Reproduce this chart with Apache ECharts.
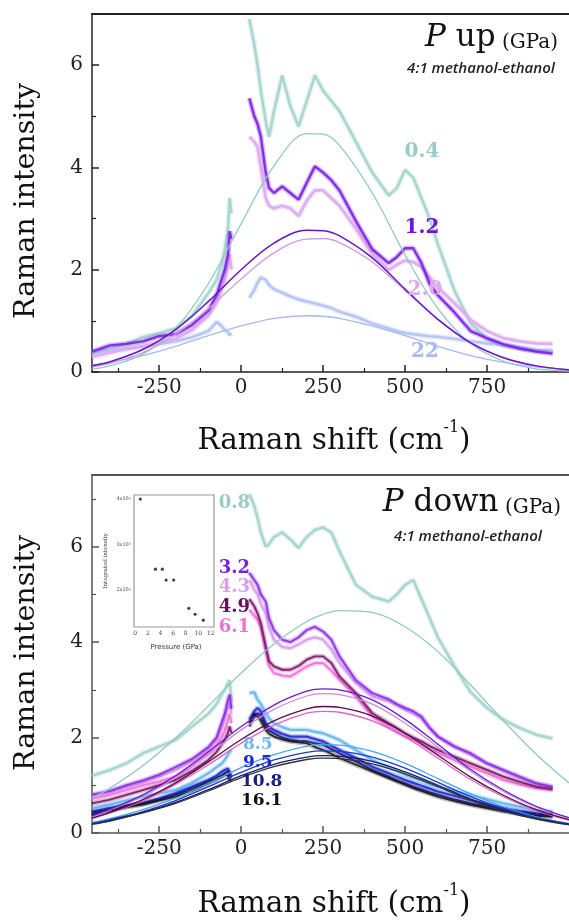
<!DOCTYPE html>
<html><head><meta charset="utf-8">
<script src="https://cdn.jsdelivr.net/npm/echarts@6/dist/echarts.min.js"></script>
<style>html,body{margin:0;padding:0;background:#fff}#c{width:569px;height:921px}</style>
</head><body><div id="c"></div>
<script>
// ---------- DATA ----------
const xLeft  = [-455,-400,-350,-300,-250,-200,-150,-100,-75,-60,-50,-40,-35,-30];
const xRight = [25,40,50,60,75,85,100,125,150,175,200,225,250,275,300,350,400,450,475,500,525,550,575,600,650,700,750,800,850,900,950];
const fitX   = [-455,-400,-300,-200,-100,0,100,200,250,300,400,500,600,700,800,900,1000];

// P up spectra
const up04L = [0.37,0.45,0.55,0.68,0.76,0.85,1.1,1.54,1.8,2.1,2.4,2.8,3.4,3.1];
const up04R = [6.9,6.4,6.0,5.5,4.9,4.6,5.1,5.8,5.2,4.8,5.3,5.8,5.5,5.3,5.1,4.5,3.9,3.45,3.6,3.95,3.8,3.4,3.0,2.5,1.6,0.95,0.65,0.52,0.46,0.42,0.4];
const up12L = [0.4,0.52,0.55,0.6,0.7,0.74,0.92,1.2,1.5,1.8,2.0,2.3,2.75,2.6];
const up12R = [5.35,5.0,4.85,4.6,3.9,3.6,3.5,3.63,3.5,3.37,3.7,4.02,3.9,3.75,3.55,2.95,2.4,2.13,2.25,2.42,2.42,2.13,1.72,1.5,1.17,0.8,0.66,0.54,0.46,0.4,0.36];
const up20L = [0.3,0.38,0.45,0.5,0.58,0.65,0.82,1.1,1.35,1.6,1.8,2.1,2.3,2.0];
const up20R = [4.6,4.5,4.4,4.0,3.4,3.25,3.2,3.25,3.2,3.05,3.35,3.55,3.55,3.4,3.25,2.8,2.3,2.0,2.1,2.18,2.15,2.05,1.85,1.65,1.35,1.02,0.8,0.66,0.6,0.56,0.55];
const up22L = [0.38,0.42,0.46,0.5,0.55,0.6,0.68,0.8,0.98,0.9,0.82,0.78,0.72,0.76];
const up22R = [1.45,1.6,1.75,1.85,1.8,1.7,1.62,1.55,1.48,1.42,1.38,1.34,1.3,1.25,1.18,1.08,0.95,0.85,0.8,0.76,0.74,0.72,0.7,0.69,0.65,0.6,0.56,0.53,0.48,0.43,0.42];
// P up fits
const fitUp04 = [0.06,0.12,0.35,0.85,1.73,2.9,4.03,4.66,4.65,4.43,3.5,2.29,1.24,0.56,0.21,0.06,0.02];
const fitUp12 = [0.12,0.2,0.44,0.83,1.38,2.0,2.52,2.77,2.76,2.66,2.23,1.62,1.03,0.57,0.28,0.12,0.04];
const fitUp20 = [0.1,0.17,0.38,0.74,1.24,1.82,2.33,2.6,2.61,2.53,2.15,1.59,1.03,0.58,0.28,0.12,0.04];
const fitUp22 = [0.14,0.19,0.32,0.5,0.71,0.9,1.05,1.1,1.09,1.05,0.9,0.71,0.5,0.32,0.19,0.1,0.05];

// P down spectra
const dn08L = [1.2,1.32,1.46,1.67,1.81,1.95,2.23,2.5,2.7,2.9,3.0,3.15,3.2,2.75];
const dn08R = [7.1,6.85,6.6,6.3,6.0,6.05,6.2,6.3,6.15,5.97,6.2,6.35,6.4,6.3,5.9,5.2,4.95,4.85,5.0,5.2,5.3,4.9,4.5,4.1,3.5,2.95,2.62,2.37,2.2,2.06,1.98];
const dn32L = [0.8,0.88,1.0,1.1,1.22,1.38,1.55,1.8,2.0,2.3,2.5,2.8,2.9,2.6];
const dn32R = [5.45,5.3,5.2,5.0,4.85,4.5,4.25,4.05,4.0,4.1,4.25,4.32,4.22,4.05,3.7,3.2,2.93,2.8,2.7,2.62,2.55,2.44,2.2,2.02,1.81,1.67,1.46,1.32,1.18,1.04,0.96];
const dn43L = [0.78,0.86,0.96,1.06,1.18,1.32,1.5,1.75,1.95,2.2,2.4,2.65,2.75,2.5];
const dn43R = [5.3,5.1,5.0,4.8,4.6,4.3,4.05,3.9,3.87,3.95,4.05,4.1,4.05,3.85,3.56,3.14,2.86,2.76,2.67,2.58,2.5,2.4,2.2,2.02,1.82,1.64,1.45,1.29,1.15,1.04,0.98];
const dn49L = [0.62,0.7,0.8,0.9,1.0,1.11,1.3,1.53,1.7,1.85,1.95,2.1,2.23,2.1];
const dn49R = [4.9,4.75,4.6,4.4,3.9,3.6,3.49,3.42,3.42,3.5,3.63,3.7,3.7,3.56,3.28,2.93,2.51,2.3,2.2,2.09,2.0,1.92,1.82,1.74,1.6,1.46,1.32,1.18,1.07,0.97,0.92];
const dn61L = [0.72,0.8,0.9,1.0,1.08,1.18,1.4,1.67,1.85,2.0,2.15,2.37,2.5,2.3];
const dn61R = [4.68,4.55,4.47,4.3,3.84,3.5,3.35,3.3,3.28,3.38,3.49,3.56,3.56,3.4,3.21,2.86,2.44,2.22,2.12,2.02,1.95,1.85,1.75,1.67,1.53,1.39,1.25,1.11,1.02,0.94,0.9];
const dn85L = [0.52,0.6,0.68,0.76,0.83,0.9,1.05,1.25,1.38,1.45,1.53,1.65,1.7,1.74];
const dn85R = [2.93,2.95,2.79,2.7,2.51,2.4,2.3,2.22,2.16,2.16,2.16,2.12,2.09,2.02,1.95,1.74,1.53,1.37,1.3,1.22,1.15,1.1,1.02,0.97,0.88,0.8,0.71,0.62,0.55,0.48,0.45];
const dn95L = [0.45,0.52,0.58,0.62,0.72,0.83,0.97,1.11,1.2,1.28,1.32,1.35,1.25,1.2];
const dn95R = [2.37,2.55,2.62,2.55,2.3,2.22,2.16,2.08,2.02,2.02,2.02,1.97,1.92,1.83,1.74,1.57,1.39,1.25,1.18,1.11,1.05,0.99,0.93,0.87,0.78,0.69,0.6,0.52,0.46,0.41,0.39];
const dn108L = [0.42,0.5,0.56,0.62,0.7,0.8,0.93,1.08,1.15,1.2,1.25,1.3,1.2,1.15];
const dn108R = [2.3,2.45,2.51,2.45,2.23,2.15,2.09,2.0,1.95,1.93,1.92,1.88,1.85,1.76,1.67,1.5,1.32,1.18,1.1,1.04,0.97,0.91,0.85,0.8,0.7,0.62,0.55,0.48,0.43,0.38,0.36];
const dn161L = [0.38,0.47,0.54,0.6,0.68,0.76,0.88,1.04,1.12,1.18,1.22,1.2,1.1,1.1];
const dn161R = [2.23,2.5,2.44,2.35,2.16,2.08,2.02,1.96,1.92,1.9,1.88,1.8,1.74,1.66,1.57,1.43,1.29,1.15,1.08,1.01,0.94,0.88,0.82,0.76,0.67,0.59,0.52,0.45,0.4,0.36,0.34];
// P down fits
const fitDn08  = [0.73,0.94,1.41,1.99,2.66,3.35,3.96,4.43,4.58,4.66,4.62,4.32,3.8,3.1,2.35,1.65,1.05];
const fitDn32  = [0.36,0.5,0.8,1.2,1.7,2.23,2.68,2.97,3.02,3.0,2.79,2.38,1.86,1.33,0.9,0.56,0.32];
const fitDn43  = [0.35,0.48,0.77,1.16,1.64,2.16,2.59,2.87,2.92,2.9,2.7,2.3,1.8,1.29,0.87,0.54,0.31];
const fitDn49  = [0.31,0.43,0.7,1.05,1.49,1.96,2.35,2.6,2.65,2.63,2.45,2.09,1.63,1.17,0.79,0.49,0.28];
const fitDn61  = [0.3,0.42,0.67,1.02,1.43,1.88,2.26,2.51,2.55,2.53,2.35,2.01,1.57,1.12,0.76,0.47,0.27];
const fitDn85  = [0.22,0.3,0.49,0.73,1.04,1.37,1.64,1.82,1.85,1.84,1.71,1.46,1.14,0.82,0.55,0.34,0.2];
const fitDn95  = [0.2,0.28,0.45,0.68,0.97,1.27,1.53,1.69,1.72,1.71,1.59,1.36,1.06,0.76,0.51,0.32,0.19];
const fitDn108 = [0.19,0.26,0.43,0.64,0.91,1.2,1.44,1.59,1.62,1.61,1.5,1.28,1.0,0.71,0.48,0.3,0.18];
const fitDn161 = [0.18,0.25,0.42,0.62,0.88,1.16,1.39,1.54,1.57,1.56,1.45,1.24,0.97,0.69,0.46,0.29,0.17];

// inset
const insetPressure  = [0.8,3.2,4.3,4.9,6.1,8.5,9.5,10.8];
const insetIntensity = [4.0,2.46,2.46,2.22,2.22,1.6,1.47,1.34];

// ticks
const xMajor = [-250,0,250,500,750];
const xMinor = [-375,-125,125,375,625,875];
const yMajor = [0,2,4,6];
const yMinorUp = [1,3,5];
const yMinorDn = [1,3,5,7];
const insetXTicks = [0,2,4,6,8,10,12];
const insetYTicks = [2,3,4];

// ---------- BUILD ----------
const SERIF = '"DejaVu Serif", serif';
function spec(L, R) {
  const d = xLeft.map((x, i) => [x, L[i]]);
  d.push([0, '-']);
  xRight.forEach((x, i) => d.push([x, R[i]]));
  return d;
}
function fit(Y) { return fitX.map((x, i) => [x, Y[i]]); }

const chart = echarts.init(document.getElementById('c'), null, {renderer: 'canvas'});
const axCol = '#222';
function xAxes(grid, col) {
  return [
    {gridIndex: grid, type: 'value', min: -455, max: 1000, position: 'bottom',
     axisLine: {show: true, onZero: false, lineStyle: {color: col, width: 1.5}},
     axisTick: {show: true, inside: true, length: 7, customValues: xMajor, lineStyle: {color: col, width: 1.5}},
     axisLabel: {show: true, customValues: xMajor, margin: 6, color: '#222', fontFamily: SERIF, fontSize: 20},
     splitLine: {show: false}},
    {gridIndex: grid, type: 'value', min: -455, max: 1000, position: 'bottom',
     axisLine: {show: false, onZero: false},
     axisTick: {show: true, inside: true, length: 4, customValues: xMinor, lineStyle: {color: col, width: 1.2}},
     axisLabel: {show: false}, splitLine: {show: false}},
    {gridIndex: grid, type: 'value', min: -455, max: 1000, position: 'top',
     axisLine: {show: true, onZero: false, lineStyle: {color: col, width: 2}},
     axisTick: {show: false}, axisLabel: {show: false}, splitLine: {show: false}}
  ];
}
function yAxes(grid, max, minor, col) {
  return [
    {gridIndex: grid, type: 'value', min: 0, max: max, position: 'left',
     axisLine: {show: true, onZero: false, lineStyle: {color: col, width: 1.5}},
     axisTick: {show: true, inside: true, length: 7, customValues: yMajor, lineStyle: {color: col, width: 1.5}},
     axisLabel: {show: true, customValues: yMajor, margin: 9, color: '#222', fontFamily: SERIF, fontSize: 20},
     splitLine: {show: false}},
    {gridIndex: grid, type: 'value', min: 0, max: max, position: 'left',
     axisLine: {show: false, onZero: false},
     axisTick: {show: true, inside: true, length: 4, customValues: minor, lineStyle: {color: col, width: 1.2}},
     axisLabel: {show: false}, splitLine: {show: false}}
  ];
}

const series = [];
function addSpec(xi, yi, L, R, color, w, z) {
  const data = spec(L, R);
  // soft halo suggesting the noisy band of the measured spectrum
  series.push({type: 'line', xAxisIndex: xi, yAxisIndex: yi, data: data, showSymbol: false,
    connectNulls: false, lineStyle: {color: color, width: w + 3, opacity: 0.28}, z: z, silent: true, animation: false});
  series.push({type: 'line', xAxisIndex: xi, yAxisIndex: yi, data: data, showSymbol: false,
    connectNulls: false, lineStyle: {color: color, width: w, opacity: 0.9}, z: z, silent: true, animation: false});
}
function addFit(xi, yi, Y, color, w) {
  series.push({type: 'line', xAxisIndex: xi, yAxisIndex: yi, data: fit(Y), showSymbol: false, smooth: 0.35,
    lineStyle: {color: color, width: w}, z: 5, silent: true, animation: false});
}
// top panel
addSpec(0, 0, up04L, up04R, '#a3d3cd', 2.6, 2);
addSpec(0, 0, up22L, up22R, '#b1c1f6', 2.6, 2);
addSpec(0, 0, up20L, up20R, '#dcaaf0', 2.8, 3);
addSpec(0, 0, up12L, up12R, '#7a1ee6', 2.4, 4);
addFit(0, 0, fitUp04, '#90c8c2', 1.3);
addFit(0, 0, fitUp22, '#a7b8f2', 1.3);
addFit(0, 0, fitUp20, '#d09be6', 1.3);
addFit(0, 0, fitUp12, '#6416c8', 1.5);
// bottom panel
addSpec(3, 2, dn08L, dn08R, '#a3d3cd', 2.6, 2);
addSpec(3, 2, dn43L, dn43R, '#d7a0ea', 2.4, 2);
addSpec(3, 2, dn32L, dn32R, '#8a2ee6', 2.1, 3);
addSpec(3, 2, dn61L, dn61R, '#f072da', 2.2, 3);
addSpec(3, 2, dn49L, dn49R, '#7a1266', 1.9, 3);
addSpec(3, 2, dn85L, dn85R, '#64b6f2', 2.4, 3);
addSpec(3, 2, dn95L, dn95R, '#1c2ad8', 2.2, 4);
addSpec(3, 2, dn108L, dn108R, '#1c1c86', 2.0, 4);
addSpec(3, 2, dn161L, dn161R, '#161616', 1.7, 4);
addFit(3, 2, fitDn08, '#90c8c2', 1.3);
addFit(3, 2, fitDn43, '#c98ae2', 1.3);
addFit(3, 2, fitDn32, '#6a1ad0', 1.3);
addFit(3, 2, fitDn61, '#e060c8', 1.3);
addFit(3, 2, fitDn49, '#5a0c46', 1.3);
addFit(3, 2, fitDn85, '#4aa6e8', 1.3);
addFit(3, 2, fitDn95, '#1a3ad0', 1.3);
addFit(3, 2, fitDn108, '#1a1a70', 1.3);
addFit(3, 2, fitDn161, '#333', 1.3);
// inset
series.push({type: 'scatter', xAxisIndex: 6, yAxisIndex: 4, symbolSize: 3.2,
  itemStyle: {color: '#111'}, data: insetPressure.map((p, i) => [p, insetIntensity[i]]), z: 10, silent: true, animation: false});

function label(text, x, y, color, size, align) {
  return {type: 'text', x: x, y: y, z: 50, silent: true,
    style: {text: text, fill: color, font: 'bold ' + size + 'px ' + SERIF, align: align || 'center', verticalAlign: 'middle'}};
}
function titleX(y) {
  return {type: 'text', x: 334, y: y, z: 50, silent: true,
    style: {text: '{a|Raman shift (cm}{s|-1}{a|)}', align: 'center', verticalAlign: 'middle',
      rich: {a: {fontFamily: SERIF, fontSize: 29.5, fill: '#111', lineHeight: 36, verticalAlign: 'bottom'},
             s: {fontFamily: SERIF, fontSize: 16, fill: '#111', verticalAlign: 'top', lineHeight: 36}}}};
}
function titleY(y) {
  return {type: 'text', x: 27, y: y, rotation: Math.PI / 2, z: 50, silent: true,
    style: {text: 'Raman intensity', fill: '#111', font: '28.5px ' + SERIF, align: 'center', verticalAlign: 'middle'}};
}
function pTitle(word, xr, yb) {
  return {type: 'text', x: xr, y: yb, z: 50, silent: true,
    style: {text: '{p|P}{u| ' + word + '}{g| (GPa)}', align: 'right', verticalAlign: 'bottom',
      rich: {p: {fontFamily: SERIF, fontStyle: 'italic', fontSize: 31, fill: '#111', verticalAlign: 'bottom'},
             u: {fontFamily: SERIF, fontSize: 31, fill: '#111', verticalAlign: 'bottom'},
             g: {fontFamily: SERIF, fontSize: 20, fill: '#111', verticalAlign: 'bottom'}}}};
}
function solvent(xc, y) {
  return {type: 'text', x: xc, y: y, z: 50, silent: true,
    style: {text: '4:1 methanol-ethanol', fill: '#222', font: 'italic 600 15px "Open Sans"', align: 'center', verticalAlign: 'middle'}};
}

const graphic = [
  titleY(201), titleY(653), titleX(438), titleX(901),
  pTitle('up', 558, 53), pTitle('down', 561, 518),
  solvent(481, 69), solvent(468, 537),
  label('0.4', 422, 152, '#9ccbc6', 20), label('1.2', 422, 228, '#7014dc', 20),
  label('2.0', 425, 290, '#ddaaee', 20), label('22', 425, 352, '#a9baf2', 20),
  label('0.8', 250, 503, '#9ccbc6', 18, 'right'), label('3.2', 250, 568, '#7a1fe0', 18, 'right'),
  label('4.3', 250, 587, '#d9a0e8', 18, 'right'), label('4.9', 250, 607, '#6c0f5e', 18, 'right'),
  label('6.1', 250, 627, '#f070d8', 18, 'right'),
  label('8.5', 243, 745, '#6cb8f0', 17, 'left'), label('9.5', 243, 763, '#1a2ad0', 17, 'left'),
  label('10.8', 241, 782, '#1c1c7c', 17, 'left'), label('16.1', 241, 801, '#111', 17, 'left'),
  {type: 'text', x: 106, y: 561, rotation: Math.PI / 2, z: 50, silent: true,
   style: {text: 'Integrated intensity', fill: '#333', font: '5.5px ' + SERIF, align: 'center', verticalAlign: 'middle'}},
  {type: 'text', x: 176, y: 647, z: 50, silent: true,
   style: {text: 'Pressure (GPa)', fill: '#333', font: '7px "DejaVu Sans"', align: 'center', verticalAlign: 'middle'}}
];

const option = {
  animation: false,
  backgroundColor: '#fff',
  grid: [
    {left: 92, top: 14, width: 499, height: 358},
    {left: 92, top: 475, width: 499, height: 358},
    {left: 134, top: 495, width: 80, height: 132, show: true, borderColor: '#9a9a9a', borderWidth: 1.2, backgroundColor: '#fff', z: 1}
  ],
  xAxis: [].concat(xAxes(0, axCol), xAxes(1, '#555'), [
    {gridIndex: 2, type: 'value', min: -0.2, max: 12.5, position: 'bottom',
     axisLine: {show: false, onZero: false},
     axisTick: {show: true, inside: true, length: 2, customValues: insetXTicks, lineStyle: {color: '#777'}},
     axisLabel: {show: true, customValues: insetXTicks, margin: 3, fontSize: 6, color: '#444', fontFamily: SERIF},
     splitLine: {show: false}}
  ]),
  yAxis: [].concat(yAxes(0, 7, yMinorUp, axCol), yAxes(1, 7.5, yMinorDn, '#555'), [
    {gridIndex: 2, type: 'value', min: 1.19, max: 4.09, position: 'left',
     axisLine: {show: false, onZero: false},
     axisTick: {show: true, inside: true, length: 2, customValues: insetYTicks, lineStyle: {color: '#777'}},
     axisLabel: {show: true, customValues: insetYTicks, margin: 3, color: '#444',
       formatter: v => v + 'x10{s|5}',
       rich: {s: {fontSize: 3.5, verticalAlign: 'top', fontFamily: SERIF, color: '#444'}},
       fontSize: 5, fontFamily: SERIF},
     splitLine: {show: false}}
  ]),
  series: series,
  graphic: graphic
};
chart.setOption(option);
</script>
</body></html>
